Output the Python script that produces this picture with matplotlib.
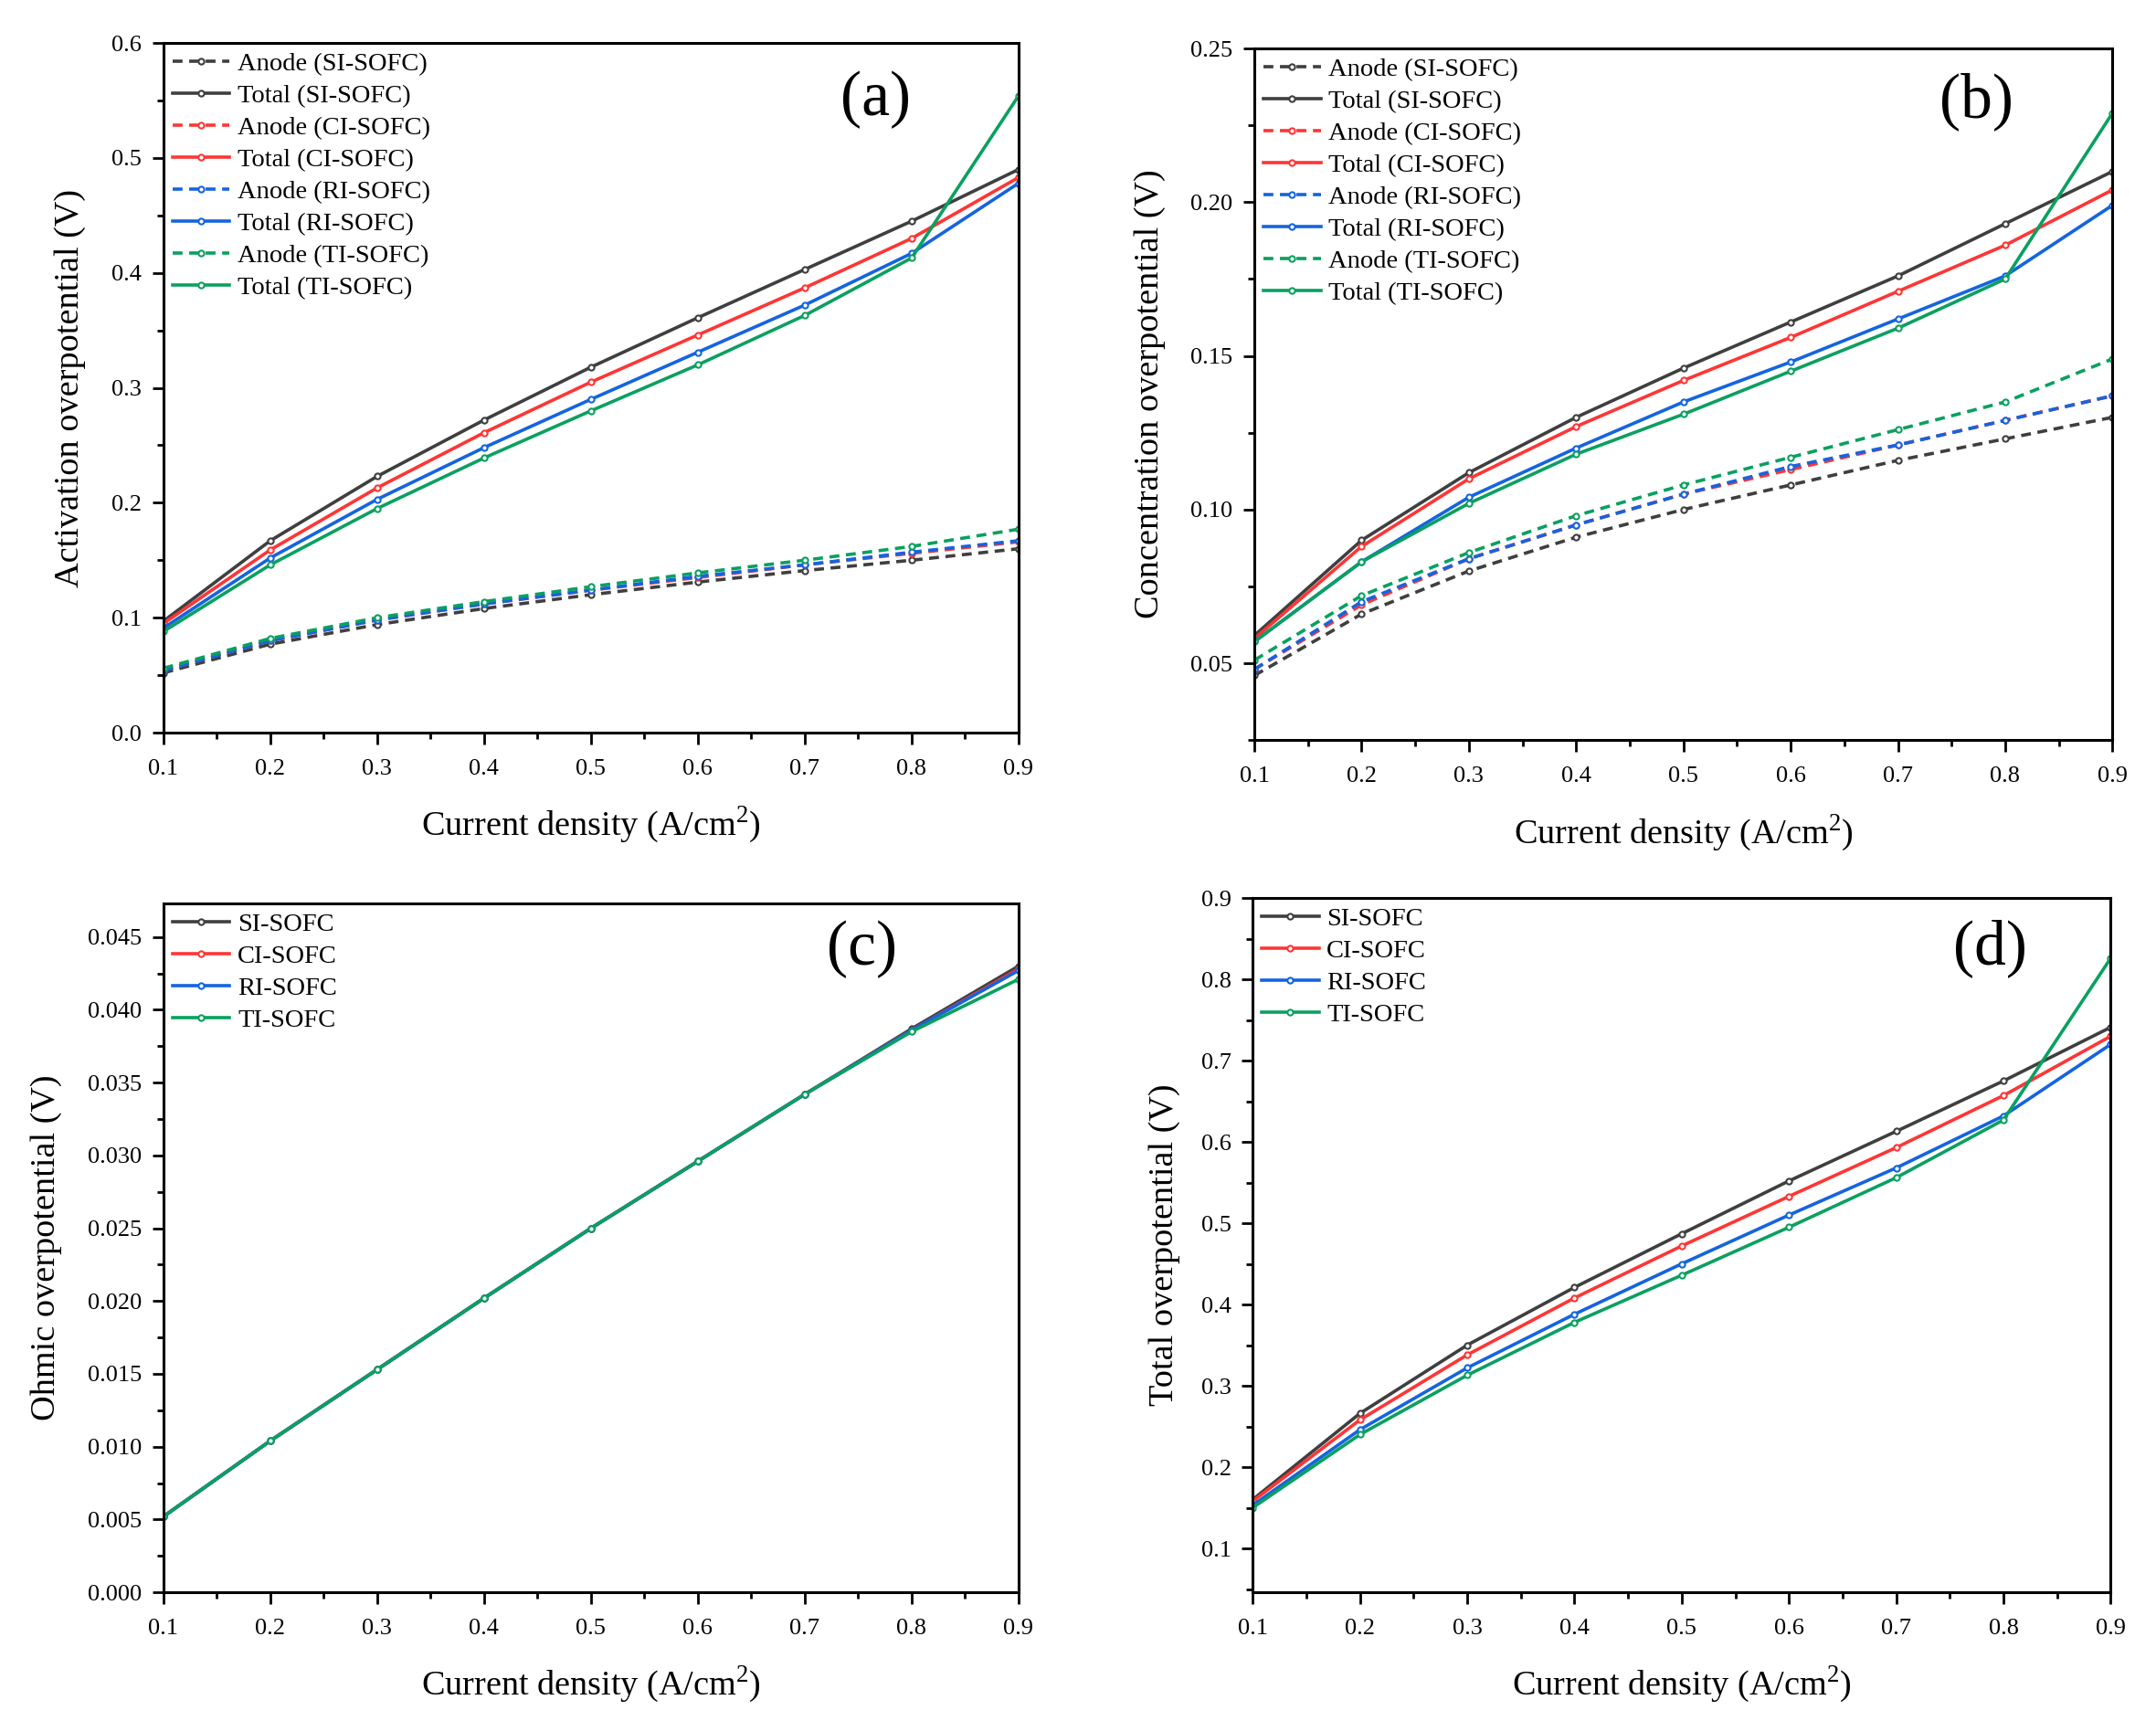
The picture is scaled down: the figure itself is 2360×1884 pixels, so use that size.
import numpy as np
import matplotlib
matplotlib.use("Agg")
import matplotlib.pyplot as plt
from matplotlib.ticker import MultipleLocator

plt.rcParams['font.family'] = ['Liberation Serif', 'DejaVu Serif']
plt.rcParams['mathtext.fontset'] = 'custom'
plt.rcParams['mathtext.rm'] = 'Liberation Serif'

# current density (A/cm2)
j = [0.1, 0.2, 0.3, 0.4, 0.5, 0.6, 0.7, 0.8, 0.9]

cases = ['SI-SOFC', 'CI-SOFC', 'RI-SOFC', 'TI-SOFC']
colors = ['#3f3f3f', '#ff3535', '#1464e0', '#0aa060']

# (a) activation overpotential
act_anode = {
    'SI-SOFC': [0.052, 0.077, 0.094, 0.108, 0.120, 0.131, 0.141, 0.150, 0.160],
    'CI-SOFC': [0.054, 0.080, 0.098, 0.112, 0.124, 0.135, 0.146, 0.156, 0.166],
    'RI-SOFC': [0.054, 0.080, 0.098, 0.112, 0.124, 0.136, 0.146, 0.157, 0.167],
    'TI-SOFC': [0.056, 0.082, 0.100, 0.114, 0.127, 0.139, 0.150, 0.162, 0.177],
}
act_total = {
    'SI-SOFC': [0.097, 0.167, 0.223, 0.272, 0.318, 0.361, 0.403, 0.445, 0.490],
    'CI-SOFC': [0.095, 0.159, 0.213, 0.261, 0.305, 0.346, 0.387, 0.430, 0.483],
    'RI-SOFC': [0.091, 0.152, 0.203, 0.248, 0.290, 0.331, 0.372, 0.417, 0.478],
    'TI-SOFC': [0.088, 0.146, 0.195, 0.239, 0.280, 0.320, 0.363, 0.413, 0.554],
}

# (b) concentration overpotential
con_anode = {
    'SI-SOFC': [0.046, 0.066, 0.080, 0.091, 0.100, 0.108, 0.116, 0.123, 0.130],
    'CI-SOFC': [0.048, 0.069, 0.084, 0.095, 0.105, 0.113, 0.121, 0.129, 0.137],
    'RI-SOFC': [0.048, 0.070, 0.084, 0.095, 0.105, 0.114, 0.121, 0.129, 0.137],
    'TI-SOFC': [0.051, 0.072, 0.086, 0.098, 0.108, 0.117, 0.126, 0.135, 0.149],
}
con_total = {
    'SI-SOFC': [0.059, 0.090, 0.112, 0.130, 0.146, 0.161, 0.176, 0.193, 0.210],
    'CI-SOFC': [0.058, 0.088, 0.110, 0.127, 0.142, 0.156, 0.171, 0.186, 0.204],
    'RI-SOFC': [0.057, 0.083, 0.104, 0.120, 0.135, 0.148, 0.162, 0.176, 0.199],
    'TI-SOFC': [0.057, 0.083, 0.102, 0.118, 0.131, 0.145, 0.159, 0.175, 0.229],
}

# (c) ohmic overpotential
ohm = {
    'SI-SOFC': [0.0052, 0.0104, 0.0153, 0.0202, 0.0250, 0.0296, 0.0342, 0.0387, 0.0430],
    'CI-SOFC': [0.0052, 0.0104, 0.0153, 0.0202, 0.0250, 0.0296, 0.0342, 0.0386, 0.0428],
    'RI-SOFC': [0.0052, 0.0104, 0.0153, 0.0202, 0.0250, 0.0296, 0.0342, 0.0386, 0.0427],
    'TI-SOFC': [0.0052, 0.0104, 0.0153, 0.0202, 0.0250, 0.0296, 0.0342, 0.0385, 0.0421],
}

# (d) total overpotential
tot = {
    'SI-SOFC': [0.160, 0.266, 0.350, 0.421, 0.487, 0.552, 0.613, 0.675, 0.741],
    'CI-SOFC': [0.158, 0.258, 0.338, 0.408, 0.472, 0.533, 0.593, 0.657, 0.730],
    'RI-SOFC': [0.153, 0.246, 0.322, 0.388, 0.450, 0.510, 0.568, 0.632, 0.720],
    'TI-SOFC': [0.150, 0.240, 0.313, 0.378, 0.436, 0.495, 0.556, 0.627, 0.826],
}

lw = 2.6
ms = 4.5
label_fs = 27.5
tick_fs = 19
leg_fs = 20.5
panel_fs = 50
xlabel = r'Current density (A/cm$^2$)'


def style_axis(ax, ylim, ymajor, yminor, yfmt):
    ax.set_xlim(0.1, 0.9)
    ax.set_ylim(*ylim)
    ax.xaxis.set_major_locator(MultipleLocator(0.1))
    ax.xaxis.set_minor_locator(MultipleLocator(0.05))
    ax.yaxis.set_major_locator(MultipleLocator(ymajor))
    ax.yaxis.set_minor_locator(MultipleLocator(yminor))
    ax.yaxis.set_major_formatter(plt.FormatStrFormatter(yfmt))
    ax.xaxis.set_major_formatter(plt.FormatStrFormatter('%.1f'))
    for s in ax.spines.values():
        s.set_linewidth(2.2)
    ax.tick_params(which='major', direction='out', length=9, width=2,
                   labelsize=tick_fs, pad=8)
    ax.tick_params(axis='x', which='major', pad=12)
    ax.tick_params(which='minor', direction='out', length=5, width=2)
    ax.set_xlabel(xlabel, fontsize=label_fs, labelpad=20)


def draw_line(ax, y, color, ls, label):
    ax.plot(j, y, color=color, linestyle=ls, linewidth=lw, marker='o',
            markersize=ms, markerfacecolor='white', markeredgecolor=color,
            markeredgewidth=1.5, label=label, dashes=(3, 2) if ls == '--' else (None, None))


def add_legend(ax):
    ax.legend(loc='upper left', frameon=False, fontsize=leg_fs, labelspacing=0.32,
              handlelength=2.2, handletextpad=0.3, borderaxespad=0.15,
              borderpad=0.2)


fig = plt.figure(figsize=(23.6, 18.84), dpi=100)
ax_a = fig.add_axes([0.0758, 0.5743, 0.3966, 0.4007])
ax_b = fig.add_axes([0.5818, 0.5700, 0.3980, 0.4018])
ax_c = fig.add_axes([0.0758, 0.0748, 0.3966, 0.4002])
ax_d = fig.add_axes([0.5810, 0.0748, 0.3980, 0.4034])

# (a)
for c, col in zip(cases, colors):
    draw_line(ax_a, act_anode[c], col, '--', 'Anode (%s)' % c)
    draw_line(ax_a, act_total[c], col, '-', 'Total (%s)' % c)
style_axis(ax_a, (0, 0.6), 0.1, 0.05, '%.1f')
ax_a.set_ylabel('Activation overpotential (V)', fontsize=label_fs, labelpad=20)
add_legend(ax_a)
ax_a.text(0.833, 0.918, '(a)', transform=ax_a.transAxes, fontsize=panel_fs,
          ha='center', va='center')

# (b)
for c, col in zip(cases, colors):
    draw_line(ax_b, con_anode[c], col, '--', 'Anode (%s)' % c)
    draw_line(ax_b, con_total[c], col, '-', 'Total (%s)' % c)
style_axis(ax_b, (0.025, 0.25), 0.05, 0.025, '%.2f')
ax_b.set_ylabel('Concentration overpotential (V)', fontsize=label_fs, labelpad=20)
add_legend(ax_b)
ax_b.text(0.841, 0.924, '(b)', transform=ax_b.transAxes, fontsize=panel_fs,
          ha='center', va='center')

# (c)
for c, col in zip(cases, colors):
    draw_line(ax_c, ohm[c], col, '-', c)
style_axis(ax_c, (0, 0.0473), 0.005, 0.0025, '%.3f')
ax_c.set_ylabel('Ohmic overpotential (V)', fontsize=label_fs, labelpad=20)
add_legend(ax_c)
ax_c.text(0.817, 0.934, '(c)', transform=ax_c.transAxes, fontsize=panel_fs,
          ha='center', va='center')

# (d)
for c, col in zip(cases, colors):
    draw_line(ax_d, tot[c], col, '-', c)
style_axis(ax_d, (0.046, 0.9), 0.1, 0.05, '%.1f')
ax_d.set_ylabel('Total overpotential (V)', fontsize=label_fs, labelpad=16)
add_legend(ax_d)
ax_d.text(0.859, 0.927, '(d)', transform=ax_d.transAxes, fontsize=panel_fs,
          ha='center', va='center')

fig.savefig('out.png', dpi=100)
